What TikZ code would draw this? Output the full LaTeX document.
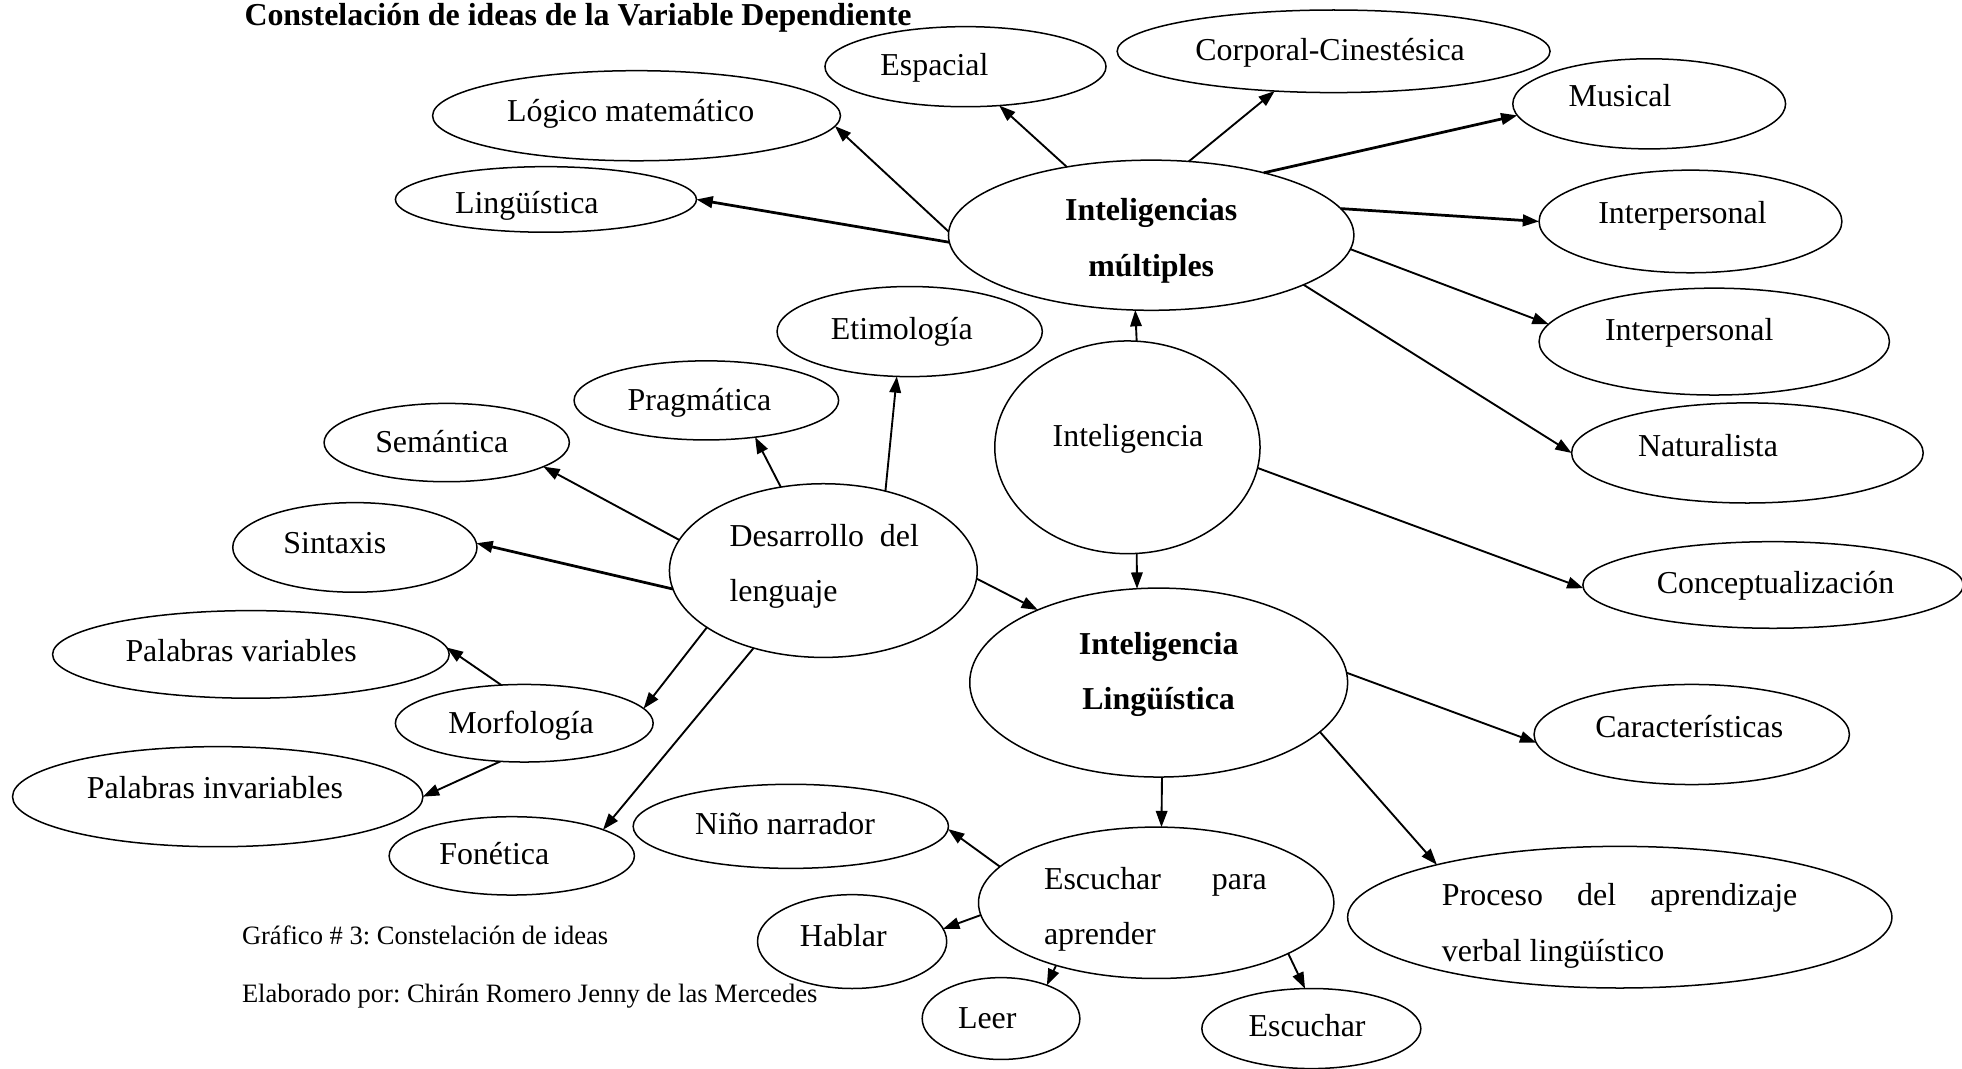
\documentclass[tikz,border=0pt]{standalone}
\usepackage{fontspec}
\setmainfont{Liberation Serif}
\usetikzlibrary{shapes.geometric,arrows.meta}
\frenchspacing
\tikzset{
  ell/.style={ellipse, draw, line width=0.6pt, inner sep=0pt, outer sep=0pt},
  txt/.style={anchor=base, inner sep=0pt, font=\fontsize{12.75pt}{15pt}\selectfont},
  txtl/.style={txt, anchor=base west},
  txtb/.style={txt, font=\fontsize{12.75pt}{15pt}\selectfont\bfseries},
  capt/.style={anchor=base west, inner sep=0pt, font=\fontsize{10.6pt}{13pt}\selectfont},
  arr/.style={-{Triangle[length=6.5pt,width=4.6pt]}, line width=0.75pt},
  arrb/.style={arr, line width=1.1pt},
}
\begin{document}
\begin{tikzpicture}[x=0.5pt,y=-0.5pt]
\useasboundingbox (0,0) rectangle (1568,854);

% title and captions
\node[capt, font=\fontsize{12.75pt}{15pt}\selectfont\bfseries] (title) at (195,20) {Constelación de ideas de la Variable Dependiente};
\node[capt] (cap1) at (193,755) {Gráfico \# 3: Constelación de ideas};
\node[capt] (cap2) at (193,801) {Elaborado por: Chirán Romero Jenny de las Mercedes};

% ellipses
\node[ell, minimum width=112.3pt, minimum height=32pt] (esp) at (771.6,53.3) {};
\node[ell, minimum width=173pt, minimum height=33pt] (corp) at (1065.8,41) {};
\node[ell, minimum width=163pt, minimum height=36pt] (log) at (508.7,92.5) {};
\node[ell, minimum width=120.3pt, minimum height=26.2pt] (ling) at (436.3,159.4) {};
\node[ell, minimum width=109pt, minimum height=36pt] (mus) at (1318,83) {};
\node[ell, minimum width=162pt, minimum height=60pt] (im) at (920,188) {};
\node[ell, minimum width=121pt, minimum height=41pt] (int1) at (1351,177) {};
\node[ell, minimum width=140pt, minimum height=42.7pt] (int2) at (1370,273) {};
\node[ell, minimum width=140.5pt, minimum height=40pt] (nat) at (1396.5,362) {};
\node[ell, minimum width=106pt, minimum height=36pt] (etim) at (727,265) {};
\node[ell, minimum width=105.7pt, minimum height=31.6pt] (prag) at (564.5,320) {};
\node[ell, minimum width=98pt, minimum height=31.3pt] (sem) at (357,353.7) {};
\node[ell, minimum width=97.6pt, minimum height=35.8pt] (sint) at (283.6,437.5) {};
\node[ell, minimum width=106pt, minimum height=85pt] (intel) at (901,357.5) {};
\node[ell, minimum width=123pt, minimum height=69.4pt] (desa) at (658,456) {};
\node[ell, minimum width=152pt, minimum height=34.6pt] (conc) at (1417,467.5) {};
\node[ell, minimum width=158.5pt, minimum height=35pt] (pvar) at (200.5,523) {};
\node[ell, minimum width=103pt, minimum height=31pt] (morf) at (419,578) {};
\node[ell, minimum width=151pt, minimum height=75.5pt] (il) at (926,545.5) {};
\node[ell, minimum width=126pt, minimum height=40pt] (car) at (1352,587) {};
\node[ell, minimum width=164pt, minimum height=40pt] (pinv) at (174,636.7) {};
\node[ell, minimum width=126pt, minimum height=33.6pt] (nino) at (632,660.4) {};
\node[ell, minimum width=98pt, minimum height=31.3pt] (fon) at (409,684) {};
\node[ell, minimum width=142pt, minimum height=60.5pt] (esc) at (924,721.5) {};
\node[ell, minimum width=217.5pt, minimum height=56.6pt] (proc) at (1294.5,733) {};
\node[ell, minimum width=75.6pt, minimum height=37.5pt] (habl) at (681,752.5) {};
\node[ell, minimum width=63pt, minimum height=32.7pt] (leer) at (800,814) {};
\node[ell, minimum width=87.5pt, minimum height=32pt] (escu) at (1048,822) {};

% texts
\node[txt] (esp-t) at (746.8,60) {Espacial};
\node[txt] (corp-t) at (1063,48) {Corporal-Cinestésica};
\node[txt] (log-t) at (504,97) {Lógico matemático};
\node[txt] (ling-t) at (421,171) {Lingüística};
\node[txt] (mus-t) at (1294.7,85) {Musical};
\node[txtb] (im-t1) at (920,176) {Inteligencias};
\node[txtb] (im-t2) at (920,221) {múltiples};
\node[txt] (int1-t) at (1344.6,178.5) {Interpersonal};
\node[txt] (int2-t) at (1350,272) {Interpersonal};
\node[txt] (nat-t) at (1365,365) {Naturalista};
\node[txt] (etim-t) at (720.7,271) {Etimología};
\node[txt] (prag-t) at (559,328) {Pragmática};
\node[txt] (sem-t) at (353,361.5) {Semántica};
\node[txt] (sint-t) at (267.6,442) {Sintaxis};
\node[txt] (intel-t) at (901.5,356.5) {Inteligencia};
\node[txtl] (desa-t1) at (582.6,437) {\makebox[75.7pt][s]{Desarrollo\hfill del}};
\node[txtl] (desa-t2) at (582.6,481) {lenguaje};
\node[txt] (conc-t) at (1419,474) {Conceptualización};
\node[txt] (pvar-t) at (192.7,529) {Palabras variables};
\node[txt] (morf-t) at (416.4,586) {Morfología};
\node[txtb] (il-t1) at (926,523) {Inteligencia};
\node[txtb] (il-t2) at (926,567) {Lingüística};
\node[txt] (car-t) at (1350,589) {Características};
\node[txt] (pinv-t) at (171.8,638) {Palabras invariables};
\node[txt] (nino-t) at (627.4,667) {Niño narrador};
\node[txt] (fon-t) at (395,691) {Fonética};
\node[txtl] (esc-t1) at (834,711) {\makebox[89pt][s]{Escuchar\hfill para}};
\node[txtl] (esc-t2) at (834,755) {aprender};
\node[txtl] (proc-t1) at (1152,724) {\makebox[142pt][s]{Proceso\hfill del\hfill aprendizaje}};
\node[txtl] (proc-t2) at (1152,768.5) {verbal lingüístico};
\node[txt] (habl-t) at (674,756.6) {Hablar};
\node[txt] (leer-t) at (789,821.6) {Leer};
\node[txt] (escu-t) at (1044.6,828.5) {Escuchar};

% connectors
\draw[arr] (im.141.7) -- (esp.-49);
\draw[arr] (im.63.7) -- (corp.214.6);
\draw[arrb] (im.29.1) -- (mus.185.6);
\draw[arrb] (im.8.4) -- (int1.180);
\draw[arr] (im.-4.6) -- (int2.174.6);
\draw[arr] (im.-18.3) -- (nat.180);
\draw[arr] (im.179.3) -- (log.-3.9);
\draw[arrb] (im.182) -- (ling.0);
\draw[arr] (intel.85.3) -- (im.258.7);
\draw[arr] (intel.-85.3) -- (il.103.4);
\draw[arr] (intel.-9.9) -- (conc.181);
\draw[arr] (desa.52.6) -- (etim.254.5);
\draw[arr] (desa.117.9) -- (prag.-37.6);
\draw[arr] (desa.168.4) -- (sem.-14.9);
\draw[arrb] (desa.187) -- (sint.2.7);
\draw[arr] (desa.-3.5) -- (il.149);
\draw[arr] (desa.206.7) -- (morf.7.6);
\draw[arr] (desa.228.9) -- (fon.16.8);
\draw[arr] (morf.121.5) -- (pvar.2.2);
\draw[arr] (morf.238.9) -- (pinv.0);
\draw[arr] (il.3.2) -- (car.183.5);
\draw[arr] (il.-17.6) -- (proc.164.6);
\draw[arr] (il.-88.5) -- (esc.86.2);
\draw[arr] (esc.167.9) -- (nino.-1);
\draw[arr] (esc.184.1) -- (habl.8.4);
\draw[arr] (esc.212) -- (leer.36.3);
\draw[arr] (esc.-21.4) -- (escu.99.7);
\end{tikzpicture}
\end{document}
